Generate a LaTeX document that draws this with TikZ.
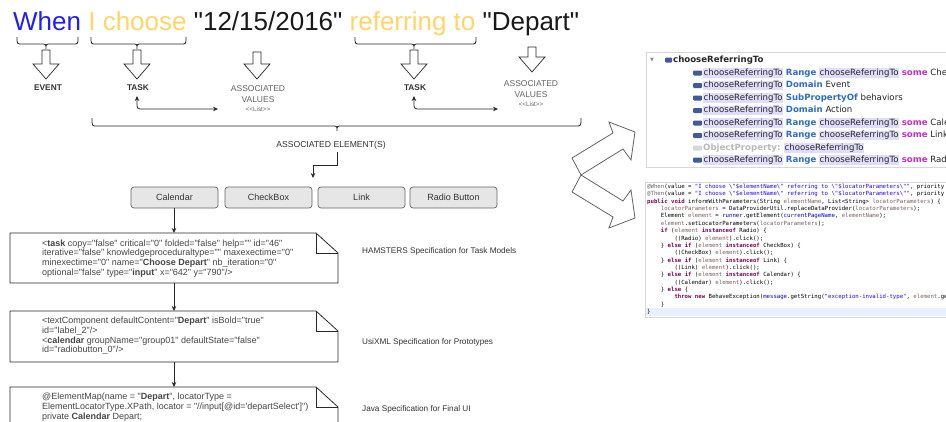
\documentclass[tikz,border=0pt]{standalone}
\usepackage{fontspec}
\setmainfont{Liberation Sans}[Ligatures=TeXOff]
\newfontfamily\ontfont{DejaVu Sans}[Ligatures=TeXOff]
\newfontfamily\codefont{DejaVu Sans Mono}[Ligatures=TeXOff]
\usetikzlibrary{arrows.meta}
\definecolor{tblue}{RGB}{30,30,250}
\definecolor{tyel}{RGB}{255,214,102}
\definecolor{tblk}{RGB}{25,25,25}
\definecolor{txt}{RGB}{51,51,51}
\definecolor{spect}{RGB}{70,70,70}
\definecolor{valg}{RGB}{100,100,100}
\definecolor{lineC}{RGB}{40,40,40}
\definecolor{boxfill}{RGB}{230,230,230}
\definecolor{boxline}{RGB}{102,102,102}
\definecolor{panel}{RGB}{215,215,215}
\definecolor{lav}{RGB}{224,221,250}
\definecolor{okw}{RGB}{45,110,195}
\definecolor{osome}{RGB}{200,45,200}
\definecolor{oicon}{RGB}{65,90,155}
\definecolor{oprop}{RGB}{185,185,185}
\definecolor{ckwc}{RGB}{127,0,85}
\definecolor{cstc}{RGB}{42,0,255}
\definecolor{cfdc}{RGB}{0,0,192}
\definecolor{cvrc}{RGB}{125,95,95}
\definecolor{canc}{RGB}{100,100,100}
\definecolor{curl}{RGB}{232,242,254}
\newcommand{\ohl}[1]{{\setlength{\fboxsep}{0.5pt}\colorbox{lav}{#1}}}
\newcommand{\ckw}[1]{\textcolor{ckwc}{\bfseries #1}}
\newcommand{\cst}[1]{\textcolor{cstc}{#1}}
\newcommand{\cfd}[1]{\textcolor{cfdc}{#1}}
\newcommand{\cvr}[1]{\textcolor{cvrc}{#1}}
\newcommand{\can}[1]{\textcolor{canc}{#1}}
\newcommand{\okw}[1]{\textcolor{okw}{\bfseries #1}}
\newcommand{\osome}[1]{\textcolor{osome}{\bfseries #1}}
\newcommand{\hollowarrow}[3]{\draw[harr] ({#1-4},#2) -- ({#1+4},#2) -- ({#1+4},{#3-15}) -- ({#1+13},{#3-15}) -- (#1,#3) -- ({#1-13},{#3-15}) -- ({#1-4},{#3-15}) -- cycle;}
\newcommand{\curlybrace}[6]{\draw[brace] (#1,#4) .. controls (#1,#5) .. ({#1+5},#5) -- ({#3-5},#5) .. controls (#3,#5) .. (#3,#6) .. controls (#3,#5) .. ({#3+5},#5) -- ({#2-5},#5) .. controls (#2,#5) .. (#2,#4);}
\tikzset{
  lbl/.style={inner sep=0, text=txt, font=\fontsize{8.3}{9}\selectfont\bfseries},
  val/.style={inner sep=0, text=valg, font=\fontsize{8.5}{9}\selectfont},
  valsm/.style={inner sep=0, text=valg, font=\fontsize{6.3}{7}\selectfont},
  elbox/.style={draw=boxline, fill=boxfill, line width=0.7pt, rounded corners=3pt, minimum width=87pt, minimum height=21pt, inner sep=0, text=txt, font=\fontsize{9}{10}\selectfont},
  conn/.style={draw=lineC, line width=0.8pt, -{Stealth[length=5pt,width=4.5pt]}},
  biconn/.style={draw=lineC, line width=0.8pt, {Stealth[length=5pt,width=4.5pt]}-{Stealth[length=5pt,width=4.5pt]}, rounded corners=3pt},
  harr/.style={draw=lineC, line width=0.7pt, fill=white, line join=miter},
  bigarr/.style={draw=valg, line width=0.8pt, line join=miter},
  brace/.style={draw=lineC, line width=0.8pt},
  note/.style={draw=lineC, line width=0.8pt, fill=white},
  spectext/.style={anchor=north west, inner sep=0, align=left, text=spect, font=\fontsize{9}{9.7}\selectfont},
  speclbl/.style={anchor=west, inner sep=0, text=txt, font=\fontsize{8.2}{9}\selectfont},
  ont/.style={anchor=west, inner sep=0, text=black!85, font=\ontfont\fontsize{8.6}{10}\selectfont, text height=6.5pt, text depth=2pt},
  code/.style={anchor=west, inner sep=0, text=black, font=\codefont\fontsize{5.67}{7}\selectfont, text height=4.3pt, text depth=1.2pt},
  panelbox/.style={draw=panel, line width=0.6pt, fill=white}
}
\begin{document}
\begin{tikzpicture}[x=1pt,y=-1pt]
\useasboundingbox (0,0) rectangle (946,421);
\clip (0,0) rectangle (946,421);
\fill[white] (0,0) rectangle (946,421);

% ---------- title ----------
\node[anchor=base west, inner sep=0, text=tblk, font=\fontsize{26}{30}\selectfont] (title) at (13,30)
  {\textcolor{tblue}{When} \textcolor{tyel}{I choose} "12/15/2016" \textcolor{tyel}{referring to} "Depart"};

% ---------- braces ----------
\curlybrace{17}{78}{46}{37}{44}{49}
\curlybrace{91}{186}{137}{37}{44}{49}
\curlybrace{355}{476}{414}{37}{44}{49}

% ---------- hollow arrows ----------
\hollowarrow{46}{50}{79}
\hollowarrow{137}{50}{79}
\hollowarrow{257}{52}{79}
\hollowarrow{414}{50}{79}
\hollowarrow{532}{47}{72}

% ---------- labels ----------
\node[lbl] (event) at (48,88) {EVENT};
\node[lbl] (task1) at (138,88) {TASK};
\node[lbl] (task2) at (415,88) {TASK};
\node[val] (av1a) at (258,89) {ASSOCIATED};
\node[val] (av1b) at (258,99.5) {VALUES};
\node[valsm] (av1c) at (258,109) {<<List>>};
\node[val] (av2a) at (531,84) {ASSOCIATED};
\node[val] (av2b) at (531,94.5) {VALUES};
\node[valsm] (av2c) at (531,104) {<<List>>};

\coordinate (t1up) at (137,96);
\coordinate (t1rt) at (218,109);
\coordinate (t2up) at (414,96);
\coordinate (t2rt) at (498,109);
\draw[biconn] (t1up) -- (137,109) -- (t1rt);
\draw[biconn] (t2up) -- (414,109) -- (t2rt);

% ---------- big brace ----------
\curlybrace{92}{581}{337}{118}{126}{131}
\node[inner sep=0, text=txt, font=\fontsize{8.6}{9}\selectfont] (assoc) at (331,145) {ASSOCIATED ELEMENT(S)};
\coordinate (aeout) at (337,152);
\coordinate (aein) at (313,178);
\draw[conn] (aeout) -- (337,165) -- (313,165) -- (aein);

% ---------- element boxes ----------
\node[elbox] (cal) at (174.5,197.5) {Calendar};
\node[elbox] (chk) at (268.5,197.5) {CheckBox};
\node[elbox] (lnk) at (361.5,197.5) {Link};
\node[elbox] (rad) at (453.5,197.5) {Radio Button};

% ---------- spec notes ----------
\draw[note] (10,233) -- (316,233) -- (338,253) -- (338,283) -- (10,283) -- cycle;
\draw[lineC, line width=0.8pt] (316,233) -- (316,253) -- (338,253);
\draw[note] (10,311) -- (316,311) -- (338,331) -- (338,362) -- (10,362) -- cycle;
\draw[lineC, line width=0.8pt] (316,311) -- (316,331) -- (338,331);
\draw[note] (10,387) -- (316,387) -- (338,407) -- (338,430) -- (10,430) -- cycle;
\draw[lineC, line width=0.8pt] (316,387) -- (316,407) -- (338,407);
\coordinate (s1t) at (174,233);
\coordinate (s1b) at (174,283);
\coordinate (s2t) at (174,311);
\coordinate (s2b) at (174,362);
\coordinate (s3t) at (174,387);
\draw[conn] (cal.south -| s1t) -- (s1t);
\draw[conn] (s1b) -- (s2t);
\draw[conn] (s2b) -- (s3t);

\node[spectext] (spec1) at (42,239.5) {<\textbf{task} copy="false" critical="0" folded="false" help="" id="46"\\
iterative="false" knowledgeproceduraltype="" maxexectime="0"\\
minexectime="0" name="\textbf{Choose Depart}" nb\_iteration="0"\\
optional="false" type="\textbf{input}" x="642" y="790"/>};
\node[spectext] (spec2) at (42,317) {<textComponent defaultContent="\textbf{Depart}" isBold="true"\\
id="label\_2"/>\\
<\textbf{calendar} groupName="group01" defaultState="false"\\
id="radiobutton\_0"/>};
\node[spectext] (spec3) at (42,393) {@ElementMap(name = "\textbf{Depart}", locatorType =\\
ElementLocatorType.XPath, locator = "//input[@id='departSelect']")\\
private \textbf{Calendar} Depart;};

\node[speclbl] (l1) at (362,251) {HAMSTERS Specification for Task Models};
\node[speclbl] (l2) at (362,342) {UsiXML Specification for Prototypes};
\node[speclbl] (l3) at (362,409) {Java Specification for Final UI};

% ---------- split arrows ----------
\draw[bigarr] (572,158) -- (613,133) -- (609,122) -- (635,132) -- (631,160) -- (623,149) -- (581,175) -- cycle;
\draw[bigarr] (581,175) -- (623,201) -- (631,190) -- (635,218) -- (609,228) -- (613,217) -- (572,192) -- cycle;

% ---------- ontology panel ----------
\draw[panelbox] (646,52) rectangle (960,167);
\node[inner sep=0, text=black!45, font=\ontfont\fontsize{5}{6}\selectfont] (otri) at (652,60) {▼};
\fill[oicon, rounded corners=1pt] (665,57.5) rectangle (672,62.5);
\node[ont, font=\ontfont\fontsize{8.6}{10}\selectfont\bfseries] (ohead) at (673,60) {chooseReferringTo};
\foreach \yy in {73,85.5,98,110.5,123,135.5,160} {
  \fill[oicon, rounded corners=1pt] (693,{\yy-2.5}) rectangle (702,{\yy+2.5});
}
\fill[oprop!70!oicon!40, rounded corners=1pt] (693,145.5) rectangle (702,150.5);
\node[ont] (o1) at (703,73) {\ohl{chooseReferringTo} \okw{Range} \ohl{chooseReferringTo} \osome{some} CheckBox};
\node[ont] (o2) at (703,85.5) {\ohl{chooseReferringTo} \okw{Domain} Event};
\node[ont] (o3) at (703,98) {\ohl{chooseReferringTo} \okw{SubPropertyOf} behaviors};
\node[ont] (o4) at (703,110.5) {\ohl{chooseReferringTo} \okw{Domain} Action};
\node[ont] (o5) at (703,123) {\ohl{chooseReferringTo} \okw{Range} \ohl{chooseReferringTo} \osome{some} Calendar};
\node[ont] (o6) at (703,135.5) {\ohl{chooseReferringTo} \okw{Range} \ohl{chooseReferringTo} \osome{some} Link};
\node[ont] (o7) at (703,148) {\textcolor{oprop}{\bfseries ObjectProperty:} \ohl{chooseReferringTo}};
\node[ont] (o8) at (703,160) {\ohl{chooseReferringTo} \okw{Range} \ohl{chooseReferringTo} \osome{some} RadioButton};

% ---------- code panel ----------
\draw[panelbox] (645,182) rectangle (960,317);
\fill[curl] (646,308) rectangle (946,316);
\node[code] (c1) at (647,187) {\can{@When}(value = \cst{"I choose \textbackslash"\$elementName\textbackslash" referring to \textbackslash"\$locatorParameters\textbackslash""}, priority = 1)};
\node[code] (c2) at (647,194.35) {\can{@Then}(value = \cst{"I choose \textbackslash"\$elementName\textbackslash" referring to \textbackslash"\$locatorParameters\textbackslash""}, priority = 1)};
\node[code] (c3) at (647,201.7) {\ckw{public void} informWithParameters(String \cvr{elementName}, List<String> \cvr{locatorParameters}) \{};
\node[code] (c4) at (660.65,209.05) {\cvr{locatorParameters} = DataProviderUtil.replaceDataProvider(\cvr{locatorParameters});};
\node[code] (c5) at (660.65,216.4) {Element \cvr{element} = \cfd{runner}.getElement(\cfd{currentPageName}, \cvr{elementName});};
\node[code] (c6) at (660.65,223.75) {\cvr{element}.setLocatorParameters(\cvr{locatorParameters});};
\node[code] (c7) at (660.65,231.1) {\ckw{if} (\cvr{element} \ckw{instanceof} Radio) \{};
\node[code] (c8) at (674.3,238.45) {((Radio) \cvr{element}).click();};
\node[code] (c9) at (660.65,245.8) {\} \ckw{else if} (\cvr{element} \ckw{instanceof} CheckBox) \{};
\node[code] (c10) at (674.3,253.15) {((CheckBox) \cvr{element}).click();};
\node[code] (c11) at (660.65,260.5) {\} \ckw{else if} (\cvr{element} \ckw{instanceof} Link) \{};
\node[code] (c12) at (674.3,267.85) {((Link) \cvr{element}).click();};
\node[code] (c13) at (660.65,275.2) {\} \ckw{else if} (\cvr{element} \ckw{instanceof} Calendar) \{};
\node[code] (c14) at (674.3,282.55) {((Calendar) \cvr{element}).click();};
\node[code] (c15) at (660.65,289.9) {\} \ckw{else} \{};
\node[code] (c16) at (674.3,297.25) {\ckw{throw new} BehaveException(\cfd{message}.getString(\cst{"exception-invalid-type"}, \cvr{element}.getClass()));};
\node[code] (c17) at (660.65,304.6) {\}};
\node[code] (c18) at (647,311.95) {\}};
\end{tikzpicture}
\end{document}
